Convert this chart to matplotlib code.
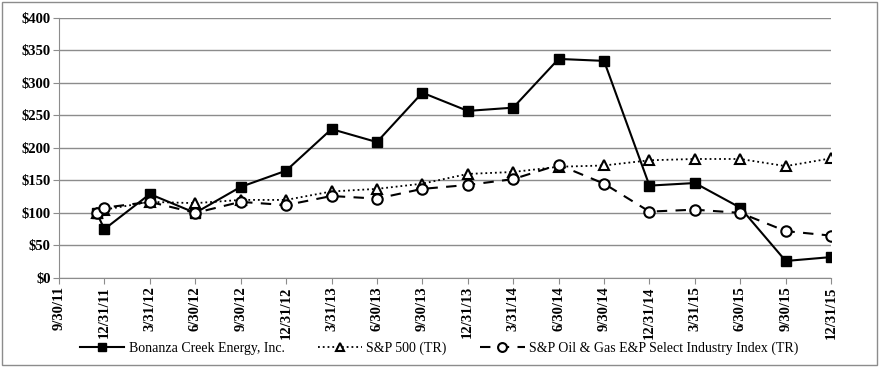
import numpy as np
import matplotlib.pyplot as plt
from matplotlib.patches import Rectangle

# quarter-end tick labels
quarters = ["9/30/11", "12/31/11", "3/31/12", "6/30/12", "9/30/12", "12/31/12",
            "3/31/13", "6/30/13", "9/30/13", "12/31/13", "3/31/14", "6/30/14",
            "9/30/14", "12/31/14", "3/31/15", "6/30/15", "9/30/15", "12/31/15"]

# first data point is the start date (mid-Dec 2011), then every quarter end
start_pos = 0.83
bonanza = [100, 75, 129, 100, 140, 165, 229, 209, 285, 257, 262, 337, 334, 142, 146, 108, 26, 32]
sp500 = [100, 105, 117, 115, 120, 120, 133, 137, 145, 160, 163, 171, 173, 181, 183, 183, 172, 184]
oilgas = [100, 108, 117, 100, 117, 112, 126, 122, 137, 143, 152, 174, 145, 102, 105, 100, 72, 65]

x = [start_pos] + list(range(1, len(quarters)))

plt.rcParams['font.family'] = ['Liberation Serif', 'DejaVu Serif']

fig = plt.figure(figsize=(8.87, 3.75), dpi=100)
ax = fig.add_axes([0.0665, 0.259, 0.8705, 0.693])

ax.plot(x, bonanza, color='black', lw=1.5, marker='s', ms=6.5, mfc='black',
        label='Bonanza Creek Energy, Inc.')
ax.plot(x, sp500, color='black', lw=1.3, ls=':', marker='^', ms=7.5, mfc='white',
        mew=1.5, label='S&P 500 (TR)')
ax.plot(x, oilgas, color='black', lw=1.5, ls=(0, (5, 4)), marker='o', ms=7.5,
        mfc='white', mew=1.5, label='S&P Oil & Gas E&P Select Industry Index (TR)')

ax.set_xlim(0, len(quarters) - 1)
ax.set_ylim(0, 400)
ax.set_yticks(np.arange(0, 401, 50))
ax.set_yticklabels([f"${v}" for v in range(0, 401, 50)], fontweight='bold', fontsize=10.5)
ax.set_xticks(range(len(quarters)))
ax.set_xticklabels(quarters, rotation=90, fontweight='bold', fontsize=10.5)

ax.grid(axis='y', color='#8c8c8c', lw=1)
ax.set_axisbelow(True)
for s in ['top', 'right']:
    ax.spines[s].set_visible(False)
for s in ['left', 'bottom']:
    ax.spines[s].set_color('#8c8c8c')
ax.tick_params(axis='both', color='#8c8c8c', length=4, pad=2)

leg = fig.legend(loc='center', bbox_to_anchor=(0.495, 0.072), ncol=3, frameon=False,
                 fontsize=10, handlelength=3.2, columnspacing=2.4, handletextpad=0.3,
                 markerscale=0.85)

# outer border
fig.patches.append(Rectangle((2 / 887, 10 / 375), 875 / 887, 363 / 375, transform=fig.transFigure,
                             fill=False, edgecolor='#8c8c8c', lw=1))

fig.savefig('out.png', dpi=100)
